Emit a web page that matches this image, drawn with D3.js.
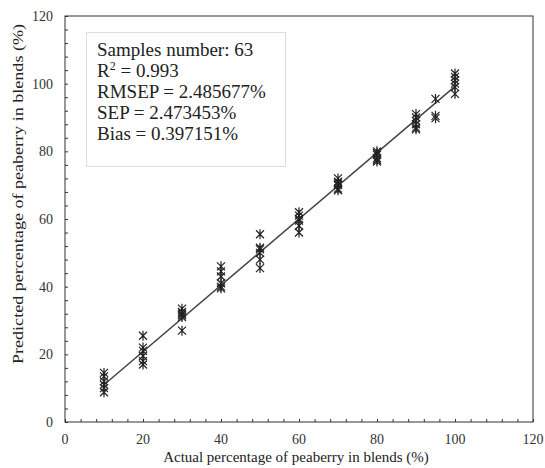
<!DOCTYPE html>
<html>
<head>
<meta charset="utf-8">
<script src="https://cdn.jsdelivr.net/npm/d3@7"></script>
<style>
body { margin: 0; background: #fff; }
</style>
</head>
<body>
<div id="chart"></div>
<script>

// actual vs predicted percentage of peaberry (63 samples)
const actual = [
	10, 10, 10, 10, 10, 10,
	20, 20, 20, 20, 20, 20,
	30, 30, 30, 30, 30, 30,
	40, 40, 40, 40, 40, 40,
	50, 50, 50, 50, 50, 50,
	60, 60, 60, 60, 60, 60,
	70, 70, 70, 70, 70, 70,
	80, 80, 80, 80, 80, 80,
	90, 90, 90, 90, 90, 90,
	95, 95, 95,
	100, 100, 100, 100, 100, 100];
const predicted = [
	14.5, 13.5, 12, 11, 10, 8.8,
	25.5, 22, 21, 19.5, 18, 17,
	33.5, 32.5, 32, 31.5, 31, 27,
	46, 44.5, 43, 41, 40, 39.5,
	55.5, 51.5, 51, 50, 48, 45.5,
	62, 61, 60, 59.5, 58, 56,
	72, 71, 70.5, 70, 69, 68.5,
	80, 79.5, 79, 78, 77.5, 77,
	91, 90, 89, 88, 87, 86.5,
	95.5, 90.5, 89.8,
	103, 102, 101, 100, 99, 97];

// fitted line ends
const fitX = [10, 100];
const fitY = [11, 99.2];

const statLines = [
	"Samples number: 63",
	"R2 = 0.993",
	"RMSEP = 2.485677%",
	"SEP = 2.473453%",
	"Bias = 0.397151%"];

const xTicks = [0, 20, 40, 60, 80, 100, 120];
const yTicks = [0, 20, 40, 60, 80, 100, 120];

const width = 545;
const height = 468;
const margin = {left: 65, right: 12, top: 16, bottom: 46};
const serif = "'Liberation Serif', 'Times New Roman', Times, 'DejaVu Serif', serif";

const xScale = d3.scaleLinear()
	.domain([0, 120])
	.range([margin.left, width - margin.right]);
const yScale = d3.scaleLinear()
	.domain([0, 120])
	.range([height - margin.bottom, margin.top]);

let svg = d3.select("#chart")
	.append("svg")
	.attr("width", width)
	.attr("height", height)
	.attr("font-family", serif)
	.style("font-family", serif);

// minor ticks every 4 units, pointing inward
const minor = d3.range(0, 121, 4);

const xAxis = svg.append("g")
	.attr("transform", `translate(0, ${yScale(0)})`)
	.call(d3.axisBottom(xScale).tickValues(minor).tickSize(-3).tickFormat(""));
const yAxis = svg.append("g")
	.attr("transform", `translate(${xScale(0)}, 0)`)
	.call(d3.axisLeft(yScale).tickValues(minor).tickSize(-3).tickFormat(""));
[xAxis, yAxis].forEach((g) => {
	g.select(".domain").remove();
	g.selectAll("line").attr("stroke", "#333");
});

// plot frame
svg.append("rect")
	.attr("x", xScale(0))
	.attr("y", yScale(120))
	.attr("width", xScale(120) - xScale(0))
	.attr("height", yScale(0) - yScale(120))
	.attr("fill", "none")
	.attr("stroke", "#333")
	.attr("stroke-width", 1);

// tick labels
svg.append("g").selectAll("text").data(xTicks).enter()
	.append("text")
	.attr("x", (d) => xScale(d))
	.attr("y", yScale(0) + 22)
	.attr("text-anchor", "middle")
	.attr("fill", "#333")
	.style("font-size", "14px")
	.text((d) => d);

svg.append("g").selectAll("text").data(yTicks).enter()
	.append("text")
	.attr("x", xScale(0) - 12)
	.attr("y", (d) => yScale(d) + 5)
	.attr("text-anchor", "end")
	.attr("fill", "#333")
	.style("font-size", "14px")
	.text((d) => d);

// axis titles
svg.append("text")
	.attr("x", 296)
	.attr("y", height - 6)
	.attr("text-anchor", "middle")
	.attr("fill", "#222")
	.style("font-size", "15px")
	.text("Actual percentage of peaberry in blends (%)");

svg.append("text")
	.attr("transform", "translate(23, 194) rotate(-90)")
	.attr("text-anchor", "middle")
	.attr("fill", "#222")
	.attr("textLength", 340)
	.attr("lengthAdjust", "spacingAndGlyphs")
	.style("font-size", "15px")
	.text("Predicted percentage of peaberry in blends (%)");

// regression line
const makeLine = d3.line()
	.x((d) => xScale(d[0]))
	.y((d) => yScale(d[1]));

svg.append("path")
	.attr("d", makeLine(fitX.map((x, i) => [x, fitY[i]])))
	.attr("fill", "none")
	.attr("stroke", "#444")
	.attr("stroke-width", 1.5);

// star markers
const s = 4;
const star = `M${-s},${-s}L${s},${s}M${-s},${s}L${s},${-s}M0,${-s - 1}L0,${s + 1}`;

svg.append("g").selectAll("path").data(actual).enter()
	.append("path")
	.attr("transform", (d, i) => `translate(${xScale(d)}, ${yScale(predicted[i])})`)
	.attr("d", star)
	.attr("fill", "none")
	.attr("stroke", "#222")
	.attr("stroke-width", 1.2);

// statistics box
svg.append("rect")
	.attr("x", 86.5)
	.attr("y", 32.5)
	.attr("width", 199)
	.attr("height", 134)
	.attr("fill", "#fff")
	.attr("stroke", "#ddd");

const stats = svg.append("g");
statLines.forEach(function(line, i) {
	let t = stats.append("text")
		.attr("x", 97)
		.attr("y", 56 + i * 21)
		.attr("fill", "#222")
		.style("font-size", "19px");
	if (line.startsWith("R2")) {
		t.append("tspan").text("R");
		t.append("tspan")
			.attr("dy", -7)
			.style("font-size", "12px")
			.text("2");
		t.append("tspan")
			.attr("dy", 7)
			.text(line.slice(2));
	} else {
		t.text(line);
	}
});

</script>
</body>
</html>
